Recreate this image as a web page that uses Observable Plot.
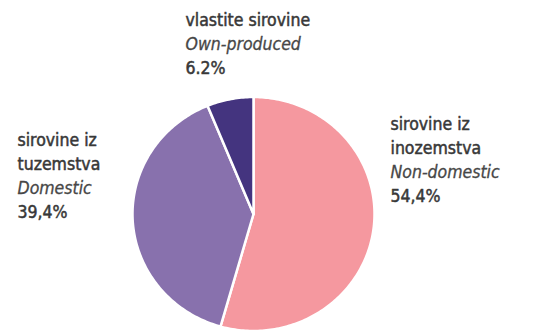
<!DOCTYPE html>
<html>
<head>
<meta charset="utf-8">
<script src="https://cdn.jsdelivr.net/npm/d3@7"></script>
<script src="https://cdn.jsdelivr.net/npm/@observablehq/plot@0.6"></script>
<style>
  html, body { margin: 0; padding: 0; background: #ffffff; }
</style>
</head>
<body>
<div id="chart"></div>
<script>
// ---- data ----
const categories = ["sirovine iz\ninozemstva", "sirovine iz\ntuzemstva", "vlastite sirovine"];
const englishNames = ["Non-domestic", "Domestic", "Own-produced"];
const shares = [54.4, 39.4, 6.2];
const shareLabels = ["54,4%", "39,4%", "6.2%"];
const sliceColors = ["#f5989f", "#8871ad", "#44347f"];

// ---- layout (pixels) ----
const W = 543, H = 334;
const cx = 253, cy = 213.5, rx = 121, ry = 117;
const labelPos = [
  {x: 390, y: 124},   // Non-domestic
  {x: 17,  y: 140},   // Domestic
  {x: 185, y: 20}     // Own-produced
];
const lineStep = 23.8;

// pie slices -> polygon vertices through d3.pie
const arcs = d3.pie().sort(null).value(d => d)(shares);
const slicePts = [];
arcs.forEach((a, i) => {
  const n = Math.max(4, Math.ceil((a.endAngle - a.startAngle) / (Math.PI / 180)));
  slicePts.push({slice: i, x: cx, y: cy});
  for (let k = 0; k <= n; k++) {
    const t = a.startAngle + (a.endAngle - a.startAngle) * k / n;
    slicePts.push({slice: i, x: cx + rx * Math.sin(t), y: cy - ry * Math.cos(t)});
  }
  slicePts.push({slice: i, x: cx, y: cy});
});

// label rows
const labelRows = [];
categories.forEach((c, i) => {
  const lines = c.split("\n").map(t => ({text: t, italic: false}));
  lines.push({text: englishNames[i], italic: true});
  lines.push({text: shareLabels[i], italic: false});
  lines.forEach((l, j) => labelRows.push({
    text: l.text, italic: l.italic,
    x: labelPos[i].x, y: labelPos[i].y + j * lineStep
  }));
});

const font = "'DejaVu Sans Condensed', 'DejaVu Sans', sans-serif";

const chart = Plot.plot({
  width: W,
  height: H,
  margin: 0,
  x: {domain: [0, W], range: [0, W], axis: null},
  y: {domain: [0, H], range: [0, H], axis: null},
  style: {background: "#ffffff"},
  marks: [
    Plot.line(slicePts, {
      x: "x", y: "y", z: "slice",
      fill: d => sliceColors[d.slice],
      stroke: "#ffffff", strokeWidth: 2.5, strokeLinejoin: "round"
    }),
    Plot.text(labelRows.filter(d => !d.italic), {
      x: "x", y: "y", text: "text", textAnchor: "start",
      fontSize: 17.5, fontFamily: font, fill: "#383838",
      stroke: "#383838", strokeWidth: 0.5
    }),
    Plot.text(labelRows.filter(d => d.italic), {
      x: "x", y: "y", text: "text", textAnchor: "start",
      fontSize: 17.5, fontFamily: font, fontStyle: "italic", fill: "#474747",
      stroke: "#474747", strokeWidth: 0.3
    })
  ]
});
document.getElementById("chart").appendChild(chart);
</script>
</body>
</html>
